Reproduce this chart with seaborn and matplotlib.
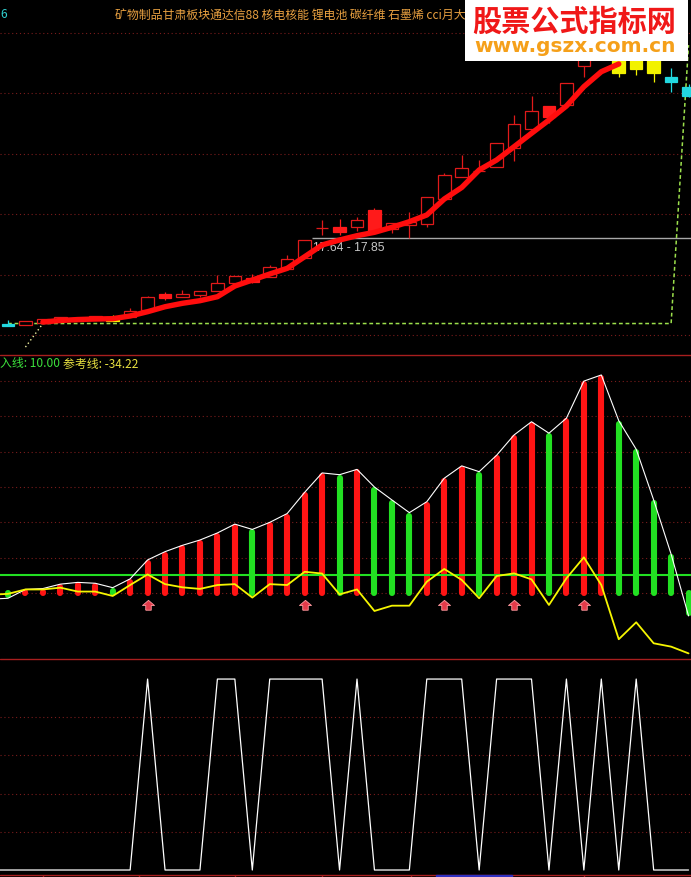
import numpy as np
import matplotlib
matplotlib.use('Agg')
import matplotlib.pyplot as plt
from matplotlib.patches import Rectangle
from matplotlib.lines import Line2D
import seaborn as sns

# ---------------- data ----------------
bars = np.arange(40)

# candle kinds: h = hollow red, r = solid red, y = yellow, c = cyan
candle_kind = ['c', 'h', 'h', 'h', 'h', 'h', 'y', 'h', 'h', 'r',
               'h', 'h', 'h', 'h', 'r', 'h', 'h', 'h', 'h', 'r',
               'h', 'r', 'h', 'h', 'h', 'h', 'h', 'h', 'h', 'h',
               'h', 'r', 'h', 'h', 'h', 'y', 'y', 'y', 'c', 'c']
open_px = [16.44, 16.41, 16.45, 16.50, 16.48, 16.50, 16.55, 16.54, 16.66, 16.86,
           16.885, 16.915, 16.985, 17.11, 17.13, 17.21, 17.34, 17.52, 18.02, 17.96,
           18.04, 17.97, 18.005, 18.07, 18.09, 18.50, 18.865, 18.965, 19.03, 19.345,
           19.66, 19.86, 20.06, 20.70, 20.89, 20.885, 20.885, 20.885, 20.52, 20.36]
close_px = [16.40, 16.48, 16.515, 16.548, 16.535, 16.565, 16.48, 16.647, 16.88, 16.93,
            16.93, 16.98, 17.105, 17.22, 17.19, 17.37, 17.51, 17.82, 18.02, 18.04,
            18.15, 18.32, 18.10, 18.125, 18.53, 18.90, 19.01, 18.965, 19.43, 19.74,
            19.96, 20.04, 20.42, 21.00, 21.13, 20.59, 20.65, 20.59, 20.44, 20.21]
high_px = [16.50, 16.49, 16.52, 16.55, 16.54, 16.57, 16.58, 16.70, 16.89, 16.97,
           17.00, 16.98, 17.24, 17.23, 17.26, 17.41, 17.57, 17.83, 18.15, 18.17,
           18.21, 18.35, 18.10, 18.29, 18.53, 18.93, 19.23, 19.15, 19.43, 19.89,
           20.21, 20.04, 20.42, 21.05, 21.22, 20.95, 20.95, 20.95, 20.67, 20.40]
low_px = [16.40, 16.41, 16.45, 16.50, 16.48, 16.50, 16.48, 16.54, 16.66, 16.83,
          16.88, 16.88, 16.98, 17.08, 17.11, 17.21, 17.34, 17.52, 17.90, 17.90,
          17.98, 17.97, 17.94, 17.85, 18.04, 18.50, 18.865, 18.95, 19.03, 19.13,
          19.66, 19.76, 20.06, 20.52, 20.84, 20.52, 20.55, 20.44, 20.27, 20.19]
ma_line = [np.nan, np.nan, 16.465, 16.49, 16.506, 16.515, 16.52, 16.565, 16.636, 16.718,
           16.775, 16.818, 16.884, 17.061, 17.16, 17.26, 17.354, 17.546, 17.74, 17.823,
           17.894, 17.95, 18.033, 18.126, 18.237, 18.501, 18.692, 18.982, 19.147, 19.367,
           19.589, 19.809, 20.041, 20.361, 20.609, 20.737, np.nan, np.nan, np.nan, np.nan]
guide_line = [16.44] * 39 + [21.05]
guide_start = [16.05, 16.44]          # short dotted tail at bars 1-2
range_low, range_high = 17.64, 17.85

# oscillator panel (the *_prev values belong to the bar just left of the window)
osc_prev = -3.5
osc_value = [-3, 2, 2.5, 5, 6, 5.5, 3, 8, 18.7, 23.4,
             27, 30, 34, 39, 36, 40, 45, 57, 68, 67,
             70, 60, 52.7, 45.5, 51.7, 65, 72, 68.7, 78, 89.5,
             97, 90.5, 99, 120, 123.5, 97.6, 81.4, 52.7, 22, -13]
osc_up = [0, 1, 1, 1, 1, 1, 0, 1, 1, 1,
          1, 1, 1, 1, 0, 1, 1, 1, 1, 0,
          1, 0, 0, 0, 1, 1, 1, 0, 1, 1,
          1, 0, 1, 1, 1, 0, 0, 0, 0, 0]
ref_prev = -1.0
ref_line = [-0.5, 2, 2, 3, 0.8, 0.8, -1.7, 4.5, 10.5, 5,
            3.2, 2.3, 4.5, 5, -2.6, 5, 4.5, 12, 11, -0.8,
            2, -10.2, -7.2, -7.2, 6.4, 13.6, 7.4, -3, 9.6, 11.1,
            7.7, -6.8, 8.3, 20.2, 4.5, -26.2, -16.6, -28.5, -30.4, -34.22]
buy_level = 10.0
buy_arrows = [8, 17, 25, 29, 33]

# signal panel
signal_prev = 0
signal = [0, 0, 0, 0, 0, 0, 0, 0, 1, 0,
          0, 0, 1, 1, 0, 1, 1, 1, 1, 0,
          1, 0, 0, 0, 1, 1, 1, 0, 1, 1,
          1, 0, 1, 0, 1, 0, 1, 0, 0, 0]
date_ticks = [2.0, 7.5, 13.0, 18.0, 23.1, 33.0]

header = '矿物制品甘肃板块通达信88 核电核能 锂电池 碳纤维 石墨烯 cci月大'

# ---------------- style ----------------
sns.set_style('dark', {'axes.facecolor': 'black', 'figure.facecolor': 'black'})
plt.rcParams['font.family'] = ['Noto Sans CJK SC', 'DejaVu Sans']

W, H = 691, 877
RED = '#ff1414'
GREEN = '#22e022'
GRID = '#7a1c1c'
SEP = '#a81e1e'
CANDLE_COLORS = {'h': '#e01a1a', 'r': '#ff1a1a', 'y': '#f2f200', 'c': '#22d8e0'}


def fy(px):
    return 1 - px / H


def dotted_grid(ax, levels):
    for lv in levels:
        ax.axhline(lv, color=GRID, lw=0.8, linestyle=(0, (1, 2.5)), zorder=0)


fig = plt.figure(figsize=(W / 100, H / 100), dpi=100)
ax_k = fig.add_axes([0, fy(355), 1, 355 / H])
ax_m = fig.add_axes([0, fy(659), 1, (659 - 355) / H])
ax_s = fig.add_axes([0, 0, 1, (H - 659) / H])

xlim = (-0.458, 39.14)
for ax in (ax_k, ax_m, ax_s):
    ax.set_facecolor('black')
    ax.set_xlim(*xlim)
    ax.set_xticks([])
    ax.set_yticks([])
    for sp in ax.spines.values():
        sp.set_visible(False)

x_ext = np.r_[-1, bars]

# ---------------- price panel ----------------
ax_k.set_ylim(15.919, 21.796)
dotted_grid(ax_k, np.arange(16.25, 21.5, 1.0))

ax_k.hlines(range_high, 17.4, xlim[1], color='#a8a8a8', lw=1.0, zorder=1)
ax_k.text(17.45, range_high - 0.165, f'{range_low:.2f} - {range_high:.2f}',
          color='#c8c8c8', fontsize=8.7, va='center', ha='left',
          family=['Liberation Sans'], zorder=1)

for i in bars:
    o, c, h, l = open_px[i], close_px[i], high_px[i], low_px[i]
    k = candle_kind[i]
    col = CANDLE_COLORS[k]
    lo, hi = min(o, c), max(o, c)
    ax_k.vlines(i, hi, h, color=col, lw=0.9, zorder=3)
    ax_k.vlines(i, l, lo, color=col, lw=0.9, zorder=3)
    if hi - lo < 0.01:
        ax_k.hlines(lo, i - 0.36, i + 0.36, color=col, lw=0.9, zorder=3)
    else:
        face = 'black' if k == 'h' else col
        ax_k.bar(i, hi - lo, bottom=lo, width=0.72, facecolor=face,
                 edgecolor=col, linewidth=0.9, zorder=3)

ax_k.plot(bars, guide_line, color='#9ce04c', lw=1.1, dashes=(2.5, 1.8), zorder=2)
ax_k.plot(bars[1:3], guide_start, color='#f0f0a0', lw=1.0, dashes=(1, 2), zorder=2)
sns.lineplot(x=bars, y=ma_line, ax=ax_k, color='#ff0d0d', lw=3.9,
             solid_capstyle='round', zorder=5)

# ---------------- oscillator panel ----------------
ax_m.set_ylim(-37.4, 134.8)
dotted_grid(ax_m, np.arange(0, 121, 20))

cap = 1.7
bar_cols = [RED if u else GREEN for u in osc_up]
tops = [v - np.sign(v) * cap for v in osc_value]
vl = ax_m.vlines(bars, 0, tops, colors=bar_cols, lw=4.4, zorder=3)
vl.set_capstyle('round')

ax_m.axhline(buy_level, color=GREEN, lw=1.5, zorder=4)
sns.lineplot(x=x_ext, y=[osc_prev] + osc_value, ax=ax_m, color='white', lw=0.8, zorder=5)
sns.lineplot(x=x_ext, y=[ref_prev] + ref_line, ax=ax_m, color='#f5f500', lw=1.3, zorder=6)

arrow = [(-0.32, -0.55), (0.32, -0.55), (0.32, 0.0), (0.7, 0.0),
         (0.0, 0.6), (-0.7, 0.0), (-0.32, 0.0), (-0.32, -0.55)]
ax_m.scatter(buy_arrows, [-7] * len(buy_arrows), marker=arrow, s=75,
             facecolor='#e23a4a', edgecolor='#ff9aa0', linewidths=0.6, zorder=6)

# ---------------- signal panel ----------------
ax_s.set_ylim(-0.0366, 1.105)
dotted_grid(ax_s, [0.2, 0.4, 0.6, 0.8])
sns.lineplot(x=x_ext, y=[signal_prev] + signal, ax=ax_s, color='white', lw=0.9, zorder=3)
ax_s.axhline(-0.026, color=SEP, lw=1.0, zorder=4)
ax_s.vlines(date_ticks, -0.04, -0.026, color=SEP, lw=1.0, zorder=4)
ax_s.axvspan(24.5, 28.9, ymin=0, ymax=0.01, color='#3030c0', zorder=4)

# ---------------- separators & texts ----------------
for py in (355, 659):
    fig.add_artist(Line2D([0, 1], [fy(py), fy(py)], transform=fig.transFigure,
                          color=SEP, lw=1.0))

fig.text(115 / W, fy(15), header, color='#e8a040', fontsize=8.6, va='center')
fig.text(0.5 / W, fy(15), '6', color='#30d0d0', fontsize=8.6, va='center')

fig.text(0.5 / W, fy(364), f'入线: {buy_level:.2f}', color='#3ce03c',
         fontsize=8.6, va='center')
fig.text(63 / W, fy(364), f'参考线: {ref_line[-1]:.2f}', color='#e8e040',
         fontsize=8.6, va='center')

# watermark box
fig.add_artist(Rectangle((465 / W, fy(61)), 223 / W, 61 / H, transform=fig.transFigure,
                         facecolor='white', edgecolor='none', zorder=20))
fig.text(574 / W, fy(22), '股票公式指标网', color='#f01818', fontsize=21,
         fontweight='bold', ha='center', va='center', zorder=21)
fig.text(575 / W, fy(46), 'www.gszx.com.cn', color='#f5a01a', fontsize=14.5,
         fontweight='bold', ha='center', va='center', family=['DejaVu Sans'], zorder=21)

fig.savefig('out.png', dpi=100, facecolor='black')
